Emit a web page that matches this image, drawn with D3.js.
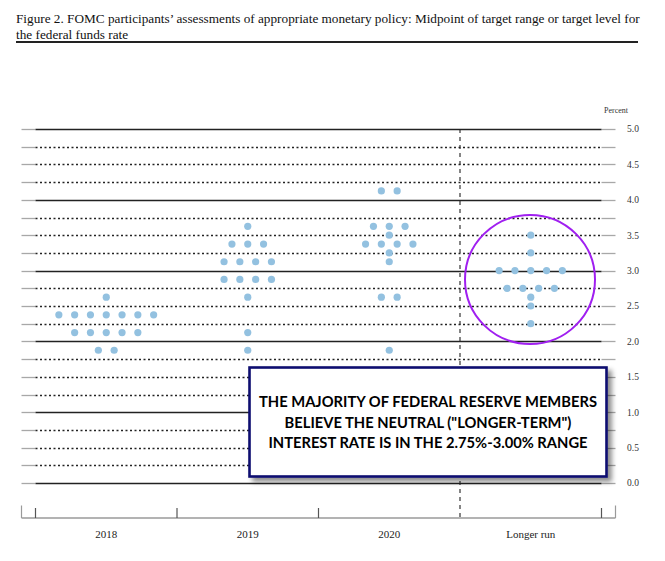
<!DOCTYPE html>
<html><head><meta charset="utf-8">
<script src="https://cdn.jsdelivr.net/npm/d3@7"></script>
<style>body{margin:0;background:#fff}svg{display:block}</style>
</head><body>
<svg id="c" width="665" height="561"></svg>
<script>
const titleLines = ["Figure 2. FOMC participants\u2019 assessments of appropriate monetary policy: Midpoint of target range or target level for", "the federal funds rate"];
const categories = ["2018", "2019", "2020", "Longer run"];
// [midpoint value, number of participants]
const dots2018 = [[2.625,1],[2.375,7],[2.125,5],[1.875,2]];
const dots2019 = [[3.625,1],[3.375,3],[3.125,4],[2.875,4],[2.625,1],[2.125,1],[1.875,1]];
const dots2020 = [[4.125,2],[3.625,3],[3.5,1],[3.375,4],[3.25,1],[3.125,1],[2.625,2],[1.875,1]];
const dotsLonger = [[3.5,1],[3.25,1],[3.0,5],[2.75,4],[2.625,1],[2.5,1],[2.25,1]];
const yTicks = [0,0.5,1,1.5,2,2.5,3,3.5,4,4.5,5];
const annotationLines = ["THE MAJORITY OF FEDERAL RESERVE MEMBERS", "BELIEVE THE NEUTRAL (\"LONGER-TERM\")", "INTEREST RATE IS IN THE 2.75%-3.00% RANGE"];
const unitLabel = "Percent";

const series = [dots2018, dots2019, dots2020, dotsLonger];
const svg = d3.select("#c");
const serif = "'Liberation Serif','DejaVu Serif',serif";

// Title
const t1 = svg.append("text").attr("x",16).attr("y",23).attr("font-family",serif).attr("font-size",12).attr("fill","#111").text(titleLines[0]);
const w = t1.node().getComputedTextLength();
const fs = 12*624/w;
t1.attr("font-size",fs);
svg.append("text").attr("x",16).attr("y",39).attr("font-family",serif).attr("font-size",fs).attr("fill","#111").text(titleLines[1]);
svg.append("line").attr("x1",16).attr("x2",638).attr("y1",42).attr("y2",42).attr("stroke","#222").attr("stroke-width",1.8);

const x = d3.scaleBand().domain(categories).range([35.5,601.5]).padding(0);
const y = d3.scaleLinear().domain([0,5]).range([483,129]);
const xL = 21.5, xR = 615.5;

// gridlines every 0.25
const grid = d3.range(0,5.001,0.25);
const g = svg.append("g");
grid.forEach(v=>{
  const yy = Math.round(y(v))+0.5;
  const isInt = Math.abs(v-Math.round(v))<1e-6;
  g.append("line").attr("x1",xL).attr("x2",x.range()[0]).attr("y1",yy).attr("y2",yy).attr("stroke","#a8a8a8").attr("stroke-width",1.3);
  g.append("line").attr("x1",x.range()[1]).attr("x2",xR).attr("y1",yy).attr("y2",yy).attr("stroke","#a8a8a8").attr("stroke-width",1.3);
  const l = g.append("line").attr("x1",x.range()[0]).attr("x2",x.range()[1]).attr("y1",yy).attr("y2",yy).attr("stroke","#222");
  if(isInt) l.attr("stroke-width",1.6);
  else l.attr("stroke-width",1.5).attr("stroke-dasharray","2,2.5");
});

// y labels (right)
const ya = svg.append("g");
yTicks.forEach(v=>{
  ya.append("text").attr("x",627).attr("y",y(v)).attr("dy","0.35em").attr("font-family",serif).attr("font-size",9.5).attr("fill","#333").text(d3.format(".1f")(v));
});
svg.append("text").attr("x",616).attr("y",110).attr("dy","0.35em").attr("text-anchor","middle").attr("font-family",serif).attr("font-size",8).attr("fill","#333").text(unitLabel);

// x axis
const axY = 518;
svg.append("line").attr("x1",xL).attr("x2",xR).attr("y1",axY).attr("y2",axY).attr("stroke","#9a9a9a").attr("stroke-width",1.3);
[xL,xR].forEach(xx=>svg.append("line").attr("x1",xx).attr("x2",xx).attr("y1",axY).attr("y2",505.5).attr("stroke","#9a9a9a").attr("stroke-width",1.2));
const bounds = categories.map(c=>x(c)).concat([x.range()[1]]);
bounds.forEach((bx,i)=>{
  if(i===3) return;
  svg.append("line").attr("x1",bx).attr("x2",bx).attr("y1",axY).attr("y2",508).attr("stroke","#555").attr("stroke-width",1.2);
});
// dashed separator before longer run
svg.append("line").attr("x1",x("Longer run")).attr("x2",x("Longer run")).attr("y1",y(5)).attr("y2",axY).attr("stroke","#222").attr("stroke-width",1.1).attr("stroke-dasharray","4,4");
categories.forEach(c=>{
  svg.append("text").attr("x",x(c)+x.bandwidth()/2).attr("y",534).attr("dy","0.35em").attr("text-anchor","middle").attr("font-family",serif).attr("font-size",11).attr("fill","#222").text(c);
});

// dots
const spacing = 15.8;
const dg = svg.append("g");
series.forEach((s,ci)=>{
  const cx = x(categories[ci])+x.bandwidth()/2;
  s.forEach(([v,n])=>{
    for(let i=0;i<n;i++){
      dg.append("circle").attr("cx",cx+(i-(n-1)/2)*spacing).attr("cy",y(v)).attr("r",3.6).attr("fill","#93c1e0");
    }
  });
});

// purple circle highlight
svg.append("ellipse").attr("cx",530).attr("cy",279.5).attr("rx",65).attr("ry",64.5).attr("fill","none").attr("stroke","#a01ff0").attr("stroke-width",2);

// annotation box
const defs = svg.append("defs");
const f = defs.append("filter").attr("id","sh").attr("x","-10%").attr("y","-10%").attr("width","130%").attr("height","140%");
f.append("feDropShadow").attr("dx",4).attr("dy",4).attr("stdDeviation",2.5).attr("flood-color","#000").attr("flood-opacity",0.45);
svg.append("rect").attr("x",249.5).attr("y",367.5).attr("width",357).attr("height",109).attr("fill","#fff").attr("stroke","#0c0c70").attr("stroke-width",2.6).attr("filter","url(#sh)");
const bf = "'Lato','Open Sans',sans-serif";
const a0 = svg.append("text").attr("x",428).attr("y",402).attr("dy","0.35em").attr("text-anchor","middle").attr("font-family",bf).attr("font-weight","bold").attr("font-size",15).text(annotationLines[0]);
const aw = a0.node().getComputedTextLength();
const afs = 15*338/aw;
a0.attr("font-size",afs);
annotationLines.slice(1).forEach((t,i)=>{
  svg.append("text").attr("x",428).attr("y",[423,443][i]).attr("dy","0.35em").attr("text-anchor","middle").attr("font-family",bf).attr("font-weight","bold").attr("font-size",afs).text(t);
});
</script>
</body></html>
